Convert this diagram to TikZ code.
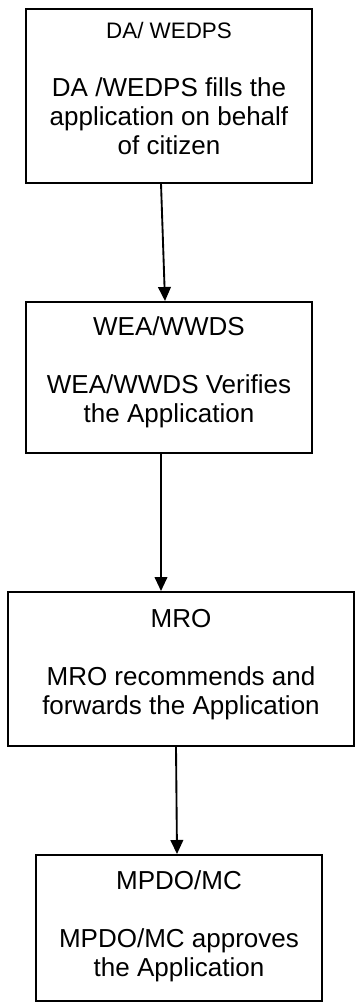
\documentclass[tikz,border=0pt]{standalone}
\usepackage{fontspec}
\setmainfont{Liberation Sans}
\usetikzlibrary{arrows.meta}

\tikzset{
  flowbox/.style={draw, line width=1.2pt, rectangle, anchor=north, inner xsep=0pt, inner ysep=0pt,
    font=\fontsize{19.5}{21.75}\selectfont},
  flow/.style={-{Triangle[length=10.5pt,width=9.5pt]}, line width=1.4pt}
}
\newcommand{\boxlines}[2]{\begin{tabular}[t]{@{}c@{}}#1\\[21.75pt]#2\end{tabular}}

\begin{document}
\begin{tikzpicture}[x=0.75pt,y=-0.75pt]
	\useasboundingbox (0,0) rectangle (359,1002);
	\node[flowbox, minimum width=214.5pt, text height=22.5pt, text depth=108pt] (dawedps) at (169,8)
		{\boxlines{\fontsize{16.8}{21.75}\selectfont DA/ WEDPS}{DA /WEDPS fills the\\application on behalf\\of citizen}};
	\node[flowbox, minimum width=214.5pt, text height=25.5pt, text depth=87.75pt] (weawwds) at (169,301)
		{\boxlines{WEA/WWDS}{WEA/WWDS Verifies\\the Application}};
	\node[flowbox, minimum width=259.5pt, text height=27pt, text depth=88.5pt] (mro) at (181,591)
		{\boxlines{MRO}{MRO recommends and\\forwards the Application}};
	\node[flowbox, minimum width=214.5pt, text height=26.25pt, text depth=83.25pt] (mpdomc) at (179,854)
		{\boxlines{MPDO/MC}{MPDO/MC approves\\the Application}};
	\draw[flow] ([xshift=-6pt]dawedps.south) -- ([xshift=-3pt]weawwds.north);
	\draw[flow] ([xshift=-6pt]weawwds.south) -- ([xshift=-15pt]mro.north);
	\draw[flow] ([xshift=-3.75pt]mro.south) -- ([xshift=-1.5pt]mpdomc.north);
\end{tikzpicture}
\end{document}
